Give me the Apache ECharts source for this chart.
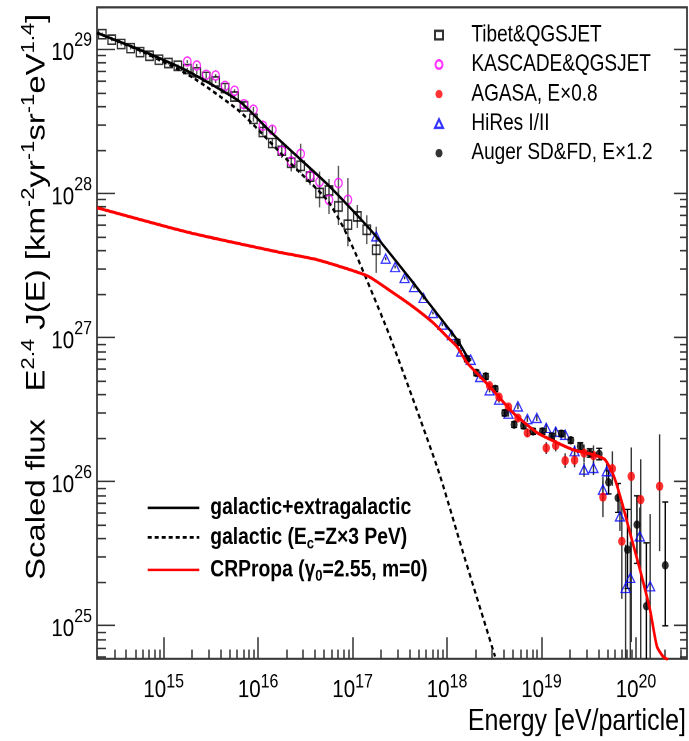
<!DOCTYPE html>
<html>
<head>
<meta charset="utf-8">
<script src="https://cdn.jsdelivr.net/npm/echarts@6/dist/echarts.min.js"></script>
<style>
  html, body { margin: 0; padding: 0; background: #fff; overflow: hidden; }
  #page { width: 689px; height: 741px; position: relative; }
  /* the figure is laid out on a 689 x 607 page and shown 1.22x taller */
  #chart { position: absolute; left: 0; top: 0; width: 689px; height: 607.38px; transform: scaleY(1.22); transform-origin: 0 0; }
</style>
</head>
<body>
<div id="page"><div id="chart"></div></div>
<script>
// All quantities are decimal logarithms: x = log10(E / eV), y = log10(E^2.4 J(E)).

const FONT = '"Liberation Sans", Arial, Helvetica, sans-serif';

const xRange = [14.294, 20.54];
const yRange = [24.767, 29.29];
const xMajor = [15, 16, 17, 18, 19, 20];
const yMajor = [25, 26, 27, 28, 29];

// model curves
const sumLgE = [14.294, 14.749, 15.247, 15.808, 16.125, 16.337, 16.761, 17.216, 17.608, 17.819, 18.105, 18.243];
const sumLgF = [29.113, 28.995, 28.849, 28.634, 28.43, 28.301, 28.044, 27.725, 27.406, 27.226, 26.983, 26.830];

const galLgE = [14.294, 14.749, 15.278, 15.808, 16.337, 16.729, 16.898, 17.046, 17.396, 17.904, 18.169, 18.508];
const galLgF = [29.113, 28.99, 28.815, 28.565, 28.211, 27.954, 27.767, 27.559, 27.003, 26.081, 25.505, 24.783];

const crpLgE = [14.294, 15.278, 16.199, 16.623, 17.152, 17.396, 17.639, 17.851, 17.999, 18.105, 18.211, 18.454, 18.698,
                18.952, 19.164, 19.333, 19.545, 19.672, 19.767, 19.852, 19.936, 20.042, 20.148, 20.222, 20.286, 20.339];
const crpLgF = [27.899, 27.725, 27.593, 27.538, 27.427, 27.323, 27.212, 27.101, 27.003, 26.934, 26.823, 26.656, 26.476,
                26.337, 26.268, 26.219, 26.185, 26.150, 26.032, 25.851, 25.643, 25.387, 25.109, 24.852, 24.783, 24.76];

// Tibet & QGSJET
const tibetLgE = [14.35, 14.45, 14.55, 14.65, 14.75, 14.85, 14.95, 15.05, 15.15, 15.25, 15.35, 15.45, 15.55, 15.65, 15.75,
                  15.85, 15.95, 16.05, 16.15, 16.25, 16.35, 16.45, 16.55, 16.65, 16.75, 16.85, 16.95, 17.05, 17.15, 17.25];
const tibetLgF = [29.104, 29.065, 29.035, 29.007, 28.979, 28.954, 28.926, 28.903, 28.884, 28.861, 28.838, 28.806, 28.775, 28.729, 28.671,
                  28.602, 28.516, 28.424, 28.348, 28.294, 28.211, 28.190, 28.116, 28.001, 28.019, 27.908, 27.781, 27.838, 27.746, 27.607];
const tibetErr = [0.01, 0.01, 0.01, 0.01, 0.01, 0.01, 0.01, 0.01, 0.01, 0.01, 0.01, 0.01, 0.01, 0.01, 0.01,
                  0.02, 0.02, 0.03, 0.03, 0.04, 0.05, 0.05, 0.06, 0.10, 0.08, 0.13, 0.15, 0.08, 0.10, 0.16];

// KASCADE & QGSJET
const kasLgE = [15.25, 15.35, 15.45, 15.55, 15.65, 15.75, 15.85, 15.95, 16.05, 16.15, 16.25, 16.35, 16.45, 16.55, 16.65, 16.75, 16.85, 16.95];
const kasLgF = [28.914, 28.886, 28.822, 28.817, 28.745, 28.711, 28.618, 28.579, 28.468, 28.440, 28.294, 28.220, 28.273, 28.121, 28.079, 27.954, 28.070, 27.954];
const kasErr = [0.01, 0.01, 0.01, 0.01, 0.01, 0.01, 0.015, 0.02, 0.02, 0.03, 0.05, 0.07, 0.07, 0.05, 0.07, 0.10, 0.12, 0.15];

// AGASA, energies scaled by 0.8
const agLgE = [18.45, 18.55, 18.65, 18.75, 18.85, 19.05, 19.15, 19.25, 19.35, 19.45, 19.55, 19.65, 19.75, 19.85, 19.95, 20.05, 20.25];
const agLgF = [26.663, 26.585, 26.516, 26.439, 26.335, 26.230, 26.247, 26.143, 26.146, 26.195, 26.178, 25.890, 26.087, 25.583, 26.034, 25.872, 25.965];
const agErrLo = [0.02, 0.02, 0.02, 0.02, 0.03, 0.04, 0.04, 0.05, 0.05, 0.06, 0.07, 0.14, 0.12, 0.40, 1.15, 1.20, 0.45];
const agErrHi = [0.02, 0.02, 0.02, 0.02, 0.03, 0.04, 0.04, 0.05, 0.05, 0.06, 0.07, 0.14, 0.12, 0.25, 0.20, 0.28, 0.36];

// HiRes I/II
const hiLgE = [17.25, 17.35, 17.45, 17.55, 17.65, 17.75, 17.85, 17.95, 18.05, 18.15, 18.25, 18.35, 18.45, 18.55, 18.65, 18.75,
               18.85, 18.95, 19.05, 19.15, 19.25, 19.35, 19.45, 19.55, 19.65, 19.69, 19.83, 19.89, 19.94, 20.04, 20.15];
const hiLgF = [27.700, 27.545, 27.487, 27.411, 27.348, 27.272, 27.168, 27.087, 27.014, 26.901, 26.844, 26.724, 26.631, 26.566, 26.469, 26.520,
               26.432, 26.439, 26.370, 26.344, 26.323, 26.208, 26.080, 26.092, 25.942, 26.069, 25.756, 25.260, 25.329, 25.618, 25.271];
const hiErrLo = [0.01, 0.01, 0.01, 0.01, 0.01, 0.01, 0.01, 0.01, 0.01, 0.01, 0.01, 0.015, 0.015, 0.02, 0.02, 0.02,
                 0.02, 0.02, 0.03, 0.03, 0.03, 0.04, 0.05, 0.05, 0.06, 0.06, 0.10, 1.0, 0.6, 0.20, 1.0];
const hiErrHi = [0.01, 0.01, 0.01, 0.01, 0.01, 0.01, 0.01, 0.01, 0.01, 0.01, 0.01, 0.015, 0.015, 0.02, 0.02, 0.02,
                 0.02, 0.02, 0.03, 0.03, 0.03, 0.04, 0.05, 0.05, 0.06, 0.06, 0.10, 0.30, 0.25, 0.20, 0.50];

// Auger SD & FD, energies scaled by 1.2
const augLgE = [18.11, 18.21, 18.31, 18.41, 18.51, 18.61, 18.71, 18.81, 18.91, 19.01, 19.11, 19.21, 19.31, 19.41, 19.51, 19.61,
                19.71, 19.81, 19.91, 20.01, 20.11, 20.31];
const augLgF = [26.964, 26.849, 26.752, 26.728, 26.641, 26.474, 26.393, 26.386, 26.346, 26.346, 26.312, 26.330, 26.284, 26.242, 26.196, 26.189,
                25.992, 25.884, 25.525, 25.699, 25.132, 25.416];
const augErrLo = [0.02, 0.02, 0.02, 0.02, 0.02, 0.02, 0.02, 0.02, 0.02, 0.02, 0.02, 0.02, 0.02, 0.025, 0.03, 0.04,
                  0.08, 0.10, 0.27, 0.27, 1.0, 0.42];
const augErrHi = [0.02, 0.02, 0.02, 0.02, 0.02, 0.02, 0.02, 0.02, 0.02, 0.02, 0.02, 0.02, 0.02, 0.025, 0.03, 0.04,
                  0.08, 0.10, 0.28, 0.20, 0.44, 0.44];

// ---- helpers -------------------------------------------------------------
const zip = (a, b) => a.map((v, i) => [v, b[i]]);

// positions of 2..9 x 10^n inside a log10 range
function minorTicks(range) {
  const out = [];
  for (let n = Math.floor(range[0]); n <= Math.ceil(range[1]); n++) {
    for (let k = 2; k <= 9; k++) {
      const v = n + Math.log10(k);
      if (v > range[0] + 0.01 && v < range[1] - 0.01) out.push(v);
    }
  }
  return out;
}

function errorBars(lgE, lgF, lo, hi, color, cap) {
  return {
    type: 'custom',
    xAxisIndex: 0, yAxisIndex: 0,
    clip: true,
    z: 2,
    silent: true,
    encode: { x: 0, y: [1, 2] },
    data: lgE.map((x, i) => [x, lgF[i] - lo[i], lgF[i] + hi[i]]),
    renderItem(params, api) {
      const a = api.coord([api.value(0), api.value(1)]);
      const b = api.coord([api.value(0), api.value(2)]);
      const st = { stroke: color, lineWidth: 1.4 };
      const children = [{ type: 'line', shape: { x1: a[0], y1: a[1], x2: b[0], y2: b[1] }, style: st }];
      if (cap) {
        const cs = { stroke: color, lineWidth: 1.1 };
        children.push({ type: 'line', shape: { x1: a[0] - cap, y1: a[1], x2: a[0] + cap, y2: a[1] }, style: cs });
        children.push({ type: 'line', shape: { x1: b[0] - cap, y1: b[1], x2: b[0] + cap, y2: b[1] }, style: cs });
      }
      return { type: 'group', children };
    }
  };
}

function markers(name, lgE, lgF, symbol, size, style) {
  return { name, type: 'scatter', xAxisIndex: 0, yAxisIndex: 0, z: 3, symbol, symbolSize: size,
           data: zip(lgE, lgF), itemStyle: style, emphasis: { disabled: true } };
}

function curve(name, lgE, lgF, lineStyle) {
  return { name, type: 'line', xAxisIndex: 0, yAxisIndex: 0, z: 5, showSymbol: false, symbol: 'none',
           smooth: 0.2, data: zip(lgE, lgF), lineStyle, itemStyle: { color: lineStyle.color, opacity: 0 },
           clip: true, emphasis: { disabled: true } };
}

const tickColor = '#333';
const supLabel = v => '{b|10}{e|' + Math.round(v) + '}';
const xLabelRich = {
  b: { fontFamily: FONT, fontSize: 20.5, color: '#000' },
  e: { fontFamily: FONT, fontSize: 16, color: '#000', padding: [0, 0, 13.8, 0] }
};
const yLabelRich = {
  b: { fontFamily: FONT, fontSize: 20.5, color: '#000', padding: [6.6, 0, 0, 0] },
  e: { fontFamily: FONT, fontSize: 16, color: '#000', padding: [0, 0, 13.8, 0] }
};

const L_TIBET = 'Tibet&QGSJET', L_KAS = 'KASCADE&QGSJET', L_AG = 'AGASA, E\u00d70.8', L_HI = 'HiRes I/II', L_AUG = 'Auger SD&FD, E\u00d71.2';
const L_SUM = 'galactic+extragalactic', L_GAL = 'galactic (Ec=Z\u00d73 PeV)', L_CRP = 'CRPropa (\u03b30=2.55, m=0)';
const legendRich = {
  [L_SUM]: '{t|galactic+extragalactic}',
  [L_GAL]: '{t|galactic (E}{s|c}{t|=Z\u00d73 PeV)}',
  [L_CRP]: '{t|CRPropa (\u03b3}{s|0}{t|=2.55, m=0)}'
};
const yTitle = '{t|Scaled flux   E}{s|2.4}{t| J(E) [km}{s|-2}{t|yr}{s|-1}{t|sr}{s|-1}{t|eV}{s|1.4}{t|]}';

const chart = echarts.init(document.getElementById('chart'), null, { renderer: 'canvas', devicePixelRatio: 2 });
chart.setOption({
  animation: false,
  backgroundColor: '#fff',
  grid: [
    { left: 97, right: 2, top: 6, bottom: 67, show: true, borderColor: '#3a3a3a', borderWidth: 1.8,
      backgroundColor: 'transparent', outerBoundsMode: 'none' },
    { left: 97, right: 2, top: 6, bottom: 67, outerBoundsMode: 'none' }
  ],
  xAxis: [
    { type: 'value', gridIndex: 0, position: 'bottom', min: xRange[0], max: xRange[1],
      axisLine: { show: false }, splitLine: { show: false },
      axisTick: { show: true, inside: true, length: 17.8, customValues: xMajor, lineStyle: { color: tickColor, width: 1.5 } },
      axisLabel: { customValues: xMajor, formatter: supLabel, margin: 11, rich: xLabelRich },
      name: 'Energy [eV/particle]', nameLocation: 'end', nameGap: -1,
      nameTextStyle: { fontFamily: FONT, fontSize: 25, color: '#000', align: 'right', verticalAlign: 'top', padding: [39, 0, 0, 0] } },
    { type: 'value', gridIndex: 1, position: 'bottom', min: xRange[0], max: xRange[1],
      axisLine: { show: false }, splitLine: { show: false }, axisLabel: { show: false },
      axisTick: { show: true, inside: true, length: 7.6, customValues: minorTicks(xRange), lineStyle: { color: tickColor, width: 1.5 } } }
  ],
  yAxis: [
    { type: 'value', gridIndex: 0, position: 'left', min: yRange[0], max: yRange[1],
      axisLine: { show: false }, splitLine: { show: false },
      axisTick: { show: true, inside: true, length: 18, customValues: yMajor, lineStyle: { color: tickColor, width: 1.3 } },
      axisLabel: { customValues: yMajor, formatter: supLabel, margin: 5, rich: yLabelRich } },
    { type: 'value', gridIndex: 1, position: 'left', min: yRange[0], max: yRange[1],
      axisLine: { show: false }, splitLine: { show: false }, axisLabel: { show: false },
      axisTick: { show: true, inside: true, length: 9, customValues: minorTicks(yRange), lineStyle: { color: tickColor, width: 1.3 } } },
    { type: 'value', gridIndex: 0, position: 'right', min: yRange[0], max: yRange[1],
      axisLine: { show: false }, splitLine: { show: false }, axisLabel: { show: false },
      axisTick: { show: true, inside: true, length: 13, customValues: yMajor, lineStyle: { color: tickColor, width: 1.3 } } },
    { type: 'value', gridIndex: 1, position: 'right', min: yRange[0], max: yRange[1],
      axisLine: { show: false }, splitLine: { show: false }, axisLabel: { show: false },
      axisTick: { show: true, inside: true, length: 7, customValues: minorTicks(yRange), lineStyle: { color: tickColor, width: 1.3 } } }
  ],
  graphic: [{
    type: 'text', x: 37, y: 475.4, rotation: Math.PI / 2, silent: true,
    style: { text: yTitle, align: 'left', verticalAlign: 'middle',
      rich: { t: { fontFamily: FONT, fontSize: 27, fill: '#000' },
              s: { fontFamily: FONT, fontSize: 18, fill: '#000', padding: [0, 0, 16, 0] } } }
  }],
  legend: [
    { data: [L_TIBET, L_KAS, L_AG, L_HI, L_AUG], orient: 'vertical', left: 429, top: 13.7,
      itemWidth: 8, itemHeight: 7, itemGap: 4.2, selectedMode: false,
      textStyle: { fontFamily: FONT, fontSize: 19, lineHeight: 20, color: '#000', padding: [0, 0, 0, 23.4] } },
    { data: [L_SUM, L_GAL, L_CRP].map(name => ({ name, itemStyle: { opacity: 0 } })),
      orient: 'vertical', left: 141.7, top: 401.7,
      itemWidth: 51.6, itemHeight: 24, itemGap: 2.6, selectedMode: false,
      formatter: n => legendRich[n],
      textStyle: { fontFamily: FONT, fontSize: 19.3, fontWeight: 'bold', color: '#000', padding: [0, 0, 0, 6],
        rich: { t: { fontFamily: FONT, fontSize: 19.3, lineHeight: 24, fontWeight: 'bold', color: '#000' },
                s: { fontFamily: FONT, fontSize: 13, lineHeight: 13, fontWeight: 'bold', color: '#000', padding: [11, 0, 0, 0] } } } }
  ],
  series: [
    errorBars(tibetLgE, tibetLgF, tibetErr, tibetErr, '#555', 0),
    errorBars(kasLgE, kasLgF, kasErr, kasErr, '#555', 0),
    errorBars(agLgE, agLgF, agErrLo, agErrHi, '#333', 0),
    errorBars(hiLgE, hiLgF, hiErrLo, hiErrHi, '#333', 0),
    errorBars(augLgE, augLgF, augErrLo, augErrHi, '#000', 3),
    markers(L_TIBET, tibetLgE, tibetLgF, 'rect', 7.5, { color: 'rgba(0,0,0,0)', borderColor: '#000', borderWidth: 1.3 }),
    markers(L_KAS, kasLgE, kasLgF, 'circle', 7.5, { color: 'rgba(0,0,0,0)', borderColor: '#ff00ff', borderWidth: 1.3 }),
    markers(L_HI, hiLgE, hiLgF, 'triangle', [9, 7.5], { color: 'rgba(0,0,0,0)', borderColor: '#0000ff', borderWidth: 1.2 }),
    markers(L_AG, agLgE, agLgF, 'circle', 7.5, { color: '#ff0000' }),
    markers(L_AUG, augLgE, augLgF, 'circle', 7, { color: '#000' }),
    curve(L_SUM, sumLgE, sumLgF, { color: '#000', width: 2.2 }),
    curve(L_GAL, galLgE, galLgF, { color: '#000', width: 2.2, type: [4, 3] }),
    curve(L_CRP, crpLgE, crpLgF, { color: '#ff0000', width: 2.6 })
  ]
});
</script>
</body>
</html>
